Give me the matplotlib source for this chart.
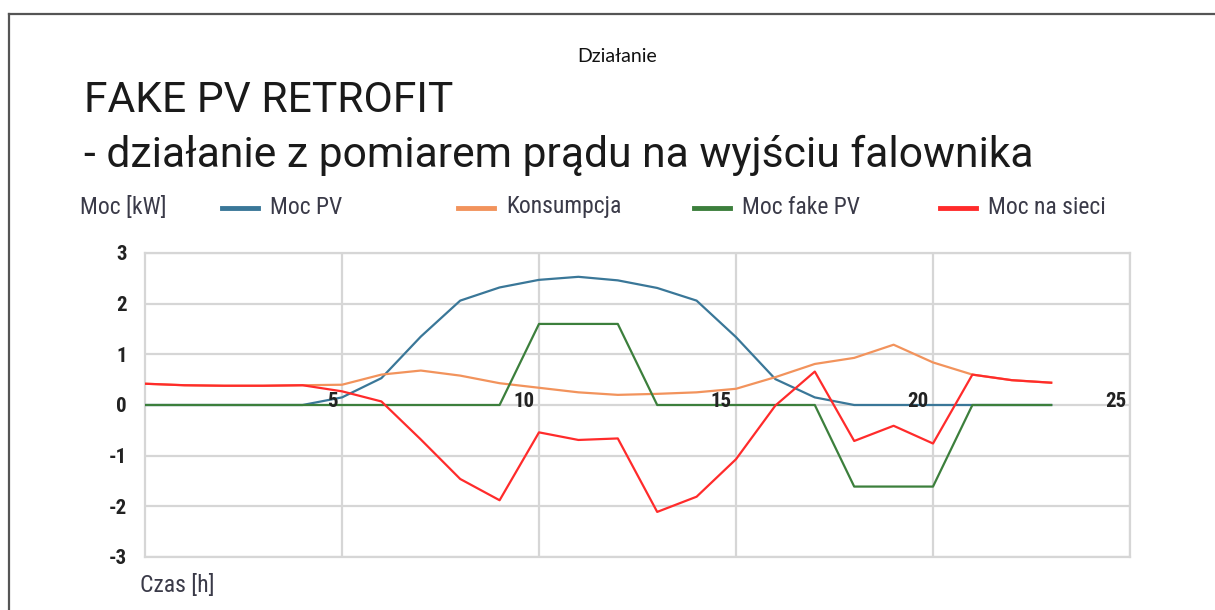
import matplotlib
matplotlib.use("Agg")
import matplotlib.pyplot as plt
from matplotlib.lines import Line2D
from matplotlib import font_manager
import matplotlib.transforms as mtrans

# ---------------- data ----------------
hours = list(range(24))
moc_pv = [0, 0, 0, 0, 0, 0.15, 0.53, 1.35, 2.06, 2.32, 2.47, 2.53, 2.46, 2.31,
          2.06, 1.34, 0.51, 0.15, 0.0, 0, 0, 0, 0, 0]
konsumpcja = [0.42, 0.39, 0.38, 0.38, 0.39, 0.40, 0.60, 0.68, 0.58, 0.43, 0.34,
              0.25, 0.20, 0.22, 0.25, 0.32, 0.55, 0.81, 0.93, 1.19, 0.84, 0.60,
              0.49, 0.44]
moc_fake_pv = [0, 0, 0, 0, 0, 0, 0, 0, 0, 0, 1.60, 1.60, 1.60, 0, 0, 0, 0, 0,
               -1.61, -1.61, -1.61, 0, 0, 0]
moc_na_sieci = [0.42, 0.39, 0.38, 0.38, 0.39, 0.27, 0.07, -0.68, -1.46, -1.88,
                -0.54, -0.69, -0.66, -2.11, -1.81, -1.07, -0.01, 0.66, -0.71,
                -0.41, -0.76, 0.60, 0.49, 0.44]

series_names = ["Moc PV", "Konsumpcja", "Moc fake PV", "Moc na sieci"]
x_ticks = [5, 10, 15, 20, 25]
y_ticks = [-3, -2, -1, 0, 1, 2, 3]

fig_title = "Działanie"
title_line1 = "FAKE PV RETROFIT"
title_line2 = "- działanie z pomiarem prądu na wyjściu falownika"
y_label = "Moc [kW]"
x_label = "Czas [h]"

# ---------------- fonts ----------------
names = {f.name for f in font_manager.fontManager.ttflist}
def pick(*cands):
    for c in cands:
        if c in names:
            return c
    return "DejaVu Sans"

narrow = pick("Liberation Sans Narrow", "Roboto Condensed", "DejaVu Sans")
title_font = pick("Roboto", "Liberation Sans")
small_font = pick("Lato", "Open Sans", "Liberation Sans")

colors = ["#3a7798", "#f2935c", "#3c7f3c", "#ff2b2b"]
text_col = "#3a3a48"
grid_col = "#d6d6d6"

W, H = 1215, 610
fig = plt.figure(figsize=(W / 100, H / 100), dpi=100)

def fx(px):
    return px / W

def fy(py):
    return 1 - py / H

ax = fig.add_axes([fx(145), fy(557), fx(1130) - fx(145), fy(253) - fy(557)])

data = [moc_pv, konsumpcja, moc_fake_pv, moc_na_sieci]
for vals, c, n in zip(data, colors, series_names):
    ax.plot(hours, vals, color=c, lw=1.6, label=n, solid_joinstyle="round",
            zorder=3)

ax.set_xlim(0, 25)
ax.set_ylim(-3, 3)
ax.set_xticks(x_ticks)
ax.set_yticks(y_ticks)
ax.grid(True, color=grid_col, lw=1.6, zorder=0)
ax.tick_params(axis="both", length=0)
ax.set_xticklabels([])
ax.set_yticklabels([str(v) for v in y_ticks], fontsize=15, family=narrow,
                   fontweight="bold", color="#222222")
ax.tick_params(axis="y", pad=13)
for sp in ax.spines.values():
    sp.set_color(grid_col)
    sp.set_linewidth(1.6)

off = mtrans.offset_copy(ax.transData, fig=fig, x=-4, y=3, units="dots")
for t in x_ticks:
    ax.text(t, 0, str(t), transform=off, ha="right", va="center", fontsize=15,
            family=narrow, fontweight="bold", color="#222222", zorder=5,
            clip_on=False)

# titles
fig.text(fx(617), fy(56), fig_title, ha="center", va="center", fontsize=14,
         family=small_font, color="#111111")
fig.text(fx(84), fy(100), title_line1, ha="left", va="center", fontsize=30.7,
         family=title_font, color="#1a1a1a")
fig.text(fx(84), fy(155), title_line2, ha="left", va="center", fontsize=30.7,
         family=title_font, color="#1a1a1a")

# axis captions
fig.text(fx(80), fy(207), y_label, ha="left", va="center", fontsize=17,
         family=narrow, color=text_col)
fig.text(fx(140), fy(585), x_label, ha="left", va="center", fontsize=17,
         family=narrow, color=text_col)

# legend (manual, equal-width slots like the original)
leg_line_x = [222, 458, 694, 940]
for xs, c, n in zip(leg_line_x, colors, series_names):
    fig.add_artist(Line2D([fx(xs), fx(xs + 36)], [fy(208), fy(208)],
                          transform=fig.transFigure, color=c, lw=3.5))
    fig.text(fx(xs + 48), fy(207), n, ha="left", va="center", fontsize=17,
             family=narrow, color=text_col)

# outer frame (top and left edges visible)
fig.add_artist(Line2D([fx(9), 1], [fy(14), fy(14)], transform=fig.transFigure,
                      color="#555555", lw=1.6))
fig.add_artist(Line2D([fx(9), fx(9)], [fy(14), 0], transform=fig.transFigure,
                      color="#555555", lw=1.6))

fig.savefig("out.png", dpi=100)
